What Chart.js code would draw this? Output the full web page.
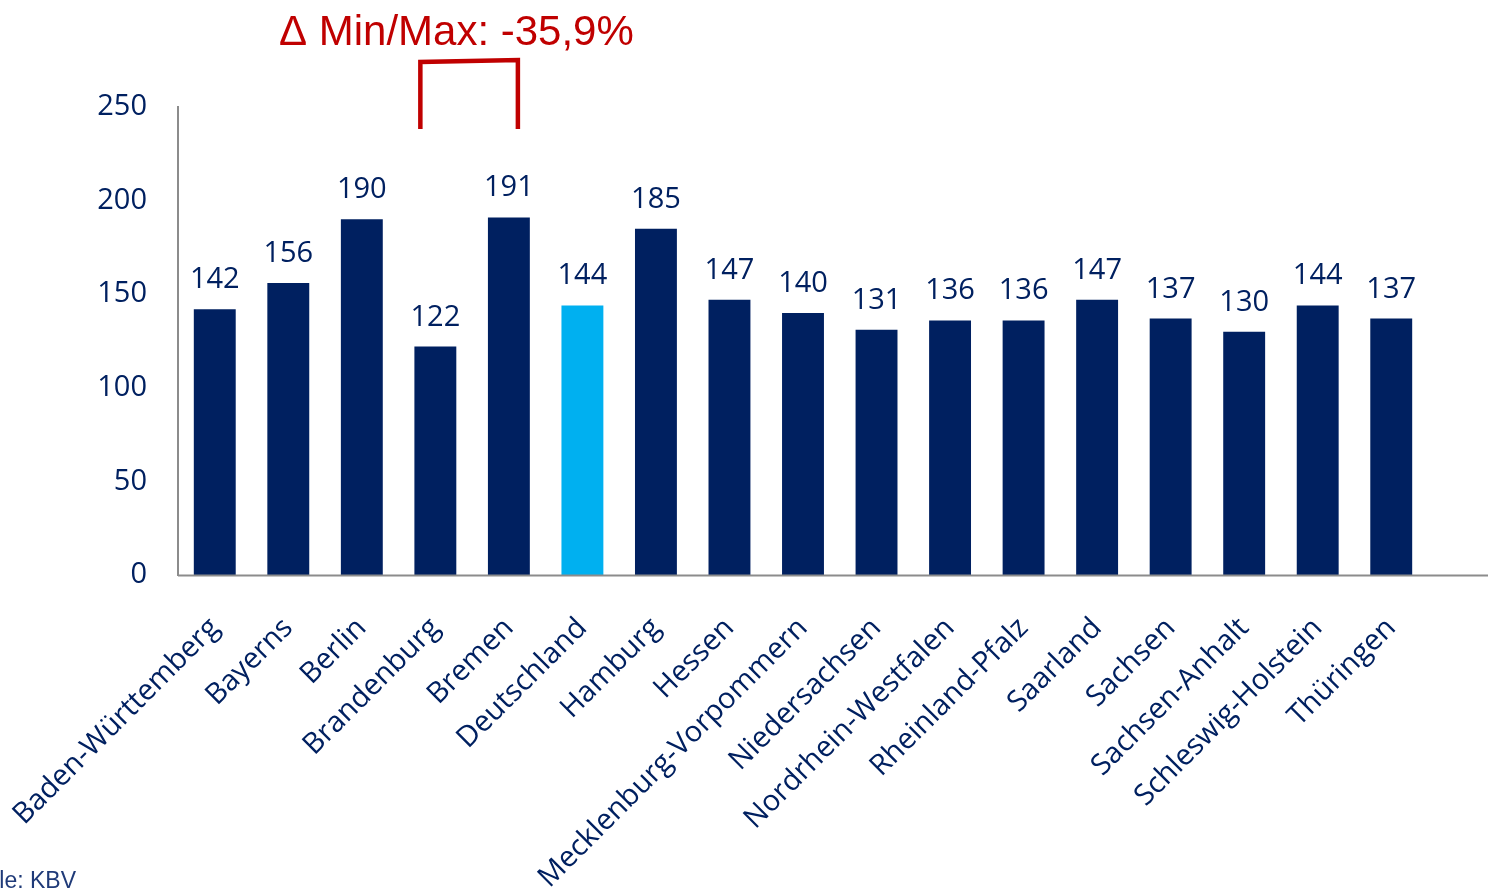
<!DOCTYPE html>
<html>
<head>
<meta charset="utf-8">
<script src="https://cdn.jsdelivr.net/npm/chart.js@4"></script>
<style>
  html, body { margin: 0; padding: 0; background: #fff; }
  #wrap { position: relative; width: 1488px; height: 891px; overflow: hidden; }
</style>
</head>
<body>
<div id="wrap"><canvas id="chart" width="1488" height="891"></canvas></div>
<script>
const categories = [
  "Baden-Württemberg", "Bayerns", "Berlin", "Brandenburg", "Bremen", "Deutschland",
  "Hamburg", "Hessen", "Mecklenburg-Vorpommern", "Niedersachsen", "Nordrhein-Westfalen",
  "Rheinland-Pfalz", "Saarland", "Sachsen", "Sachsen-Anhalt", "Schleswig-Holstein", "Thüringen"
];
const values = [142, 156, 190, 122, 191, 144, 185, 147, 140, 131, 136, 136, 147, 137, 130, 144, 137];
const yTicks = [0, 50, 100, 150, 200, 250];
const highlight = "Deutschland";
const titleText = "Δ Min/Max: -35,9%";
const sourceText = "Quelle: KBV";

const NAVY = "#002060";
const LIGHT = "#00B0F0";
const RED = "#C00000";
const LABEL_FONT = "'Open Sans', 'DejaVu Sans', sans-serif";

const barColors = categories.map((c) => (c === highlight ? LIGHT : NAVY));

// value labels above bars, title, bracket, source, long x axis line
const extras = {
  id: "extras",
  afterDatasetsDraw(chart) {
    const ctx = chart.ctx;
    const meta = chart.getDatasetMeta(0);
    ctx.save();
    ctx.fillStyle = NAVY;
    ctx.font = "29px " + LABEL_FONT;
    ctx.textAlign = "center";
    ctx.textBaseline = "alphabetic";
    meta.data.forEach((bar, i) => {
      ctx.fillText(String(values[i]), bar.x, bar.y - 21);
    });
    ctx.restore();
  },
  afterDraw(chart) {
    const ctx = chart.ctx;
    const area = chart.chartArea;
    const x = chart.scales.x;
    ctx.save();

    // x axis line running to the right edge
    ctx.strokeStyle = "#8c8c8c";
    ctx.lineWidth = 2;
    ctx.beginPath();
    ctx.moveTo(area.left, area.bottom + 0.5);
    ctx.lineTo(chart.width, area.bottom + 0.5);
    ctx.stroke();

    // title
    ctx.fillStyle = RED;
    ctx.font = "42px 'Liberation Sans', Arial, sans-serif";
    ctx.textAlign = "left";
    ctx.textBaseline = "alphabetic";
    ctx.fillText(titleText, 279, 45);

    // bracket between min and max bars
    const iMin = values.indexOf(Math.min(...values));
    const iMax = values.indexOf(Math.max(...values));
    const x1 = x.getPixelForValue(iMin) - 15;
    const x2 = x.getPixelForValue(iMax) + 9;
    ctx.strokeStyle = RED;
    ctx.lineWidth = 4.5;
    ctx.lineJoin = "miter";
    ctx.beginPath();
    ctx.moveTo(x1, 129);
    ctx.lineTo(x1, 62);
    ctx.lineTo(x2, 60);
    ctx.lineTo(x2, 129);
    ctx.stroke();

    // source
    ctx.fillStyle = "#1f3a78";
    ctx.font = "23px 'Liberation Sans', Arial, sans-serif";
    ctx.textAlign = "right";
    ctx.fillText(sourceText, 76, 888);
    ctx.restore();
  }
};

new Chart(document.getElementById("chart"), {
  type: "bar",
  data: {
    labels: categories,
    datasets: [
      {
        data: values,
        backgroundColor: barColors,
        borderWidth: 0,
        categoryPercentage: 1,
        barPercentage: 0.57
      }
    ]
  },
  options: {
    responsive: false,
    animation: false,
    layout: { padding: { left: 0, right: 60, top: 107, bottom: 0 } },
    plugins: {
      legend: { display: false },
      tooltip: { enabled: false }
    },
    scales: {
      x: {
        grid: { display: false, drawTicks: false },
        border: { display: false },
        ticks: {
          color: NAVY,
          font: { family: LABEL_FONT, size: 29 },
          maxRotation: 45,
          minRotation: 45,
          autoSkip: false,
          padding: 36
        },
        afterFit(scale) {
          scale.height = 316;
          scale.paddingLeft = 0;
          scale.paddingRight = 0;
        }
      },
      y: {
        min: 0,
        max: 250,
        afterBuildTicks(scale) { scale.ticks = yTicks.map((v) => ({ value: v })); },
        grid: { display: false, drawTicks: false },
        border: { display: true, color: "#8c8c8c", width: 2 },
        ticks: {
          color: NAVY,
          font: { family: LABEL_FONT, size: 29 },
          padding: 31
        },
        afterFit(scale) {
          scale.width = 178;
          scale.paddingTop = 0;
          scale.paddingBottom = 0;
        }
      }
    }
  },
  plugins: [extras]
});
</script>
</body>
</html>
